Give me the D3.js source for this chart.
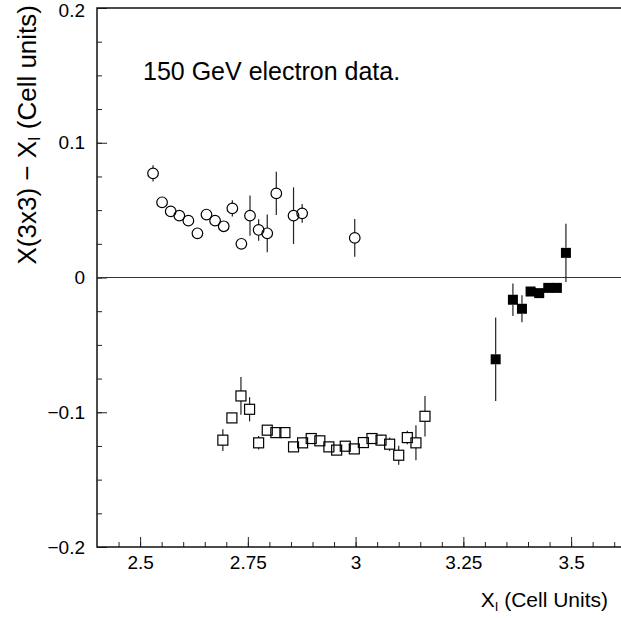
<!DOCTYPE html>
<html>
<head>
<meta charset="utf-8">
<script src="https://cdn.jsdelivr.net/npm/d3@7"></script>
<style>
  body { margin: 0; background: #fff; }
  text { font-family: "Liberation Sans", Arial, sans-serif; fill: #000; }
</style>
</head>
<body>
<svg id="chart" width="621" height="618"></svg>
<script>
// open circles
var circX = [2.530, 2.551, 2.571, 2.591, 2.612, 2.633, 2.654, 2.674, 2.694, 2.714, 2.735, 2.755, 2.775, 2.795, 2.816, 2.856, 2.876, 2.998];
var circY = [0.0773, 0.0558, 0.0491, 0.0459, 0.0422, 0.0328, 0.0467, 0.0422, 0.0380, 0.0513, 0.0250, 0.0459, 0.0353, 0.0328, 0.0624, 0.0459, 0.0476, 0.0294];
var circE = [0.006, 0.003, 0.003, 0.003, 0.003, 0.003, 0.003, 0.003, 0.003, 0.006, 0.003, 0.015, 0.008, 0.014, 0.016, 0.021, 0.007, 0.014];

// open squares
var sqX = [2.692, 2.713, 2.734, 2.754, 2.775, 2.795, 2.815, 2.836, 2.856, 2.877, 2.897, 2.917, 2.938, 2.956, 2.976, 2.997, 3.018, 3.038, 3.059, 3.079, 3.100, 3.120, 3.140, 3.161];
var sqY = [-0.1207, -0.1042, -0.0879, -0.0978, -0.1227, -0.1133, -0.1151, -0.1151, -0.1257, -0.1227, -0.1195, -0.1212, -0.1257, -0.1281, -0.1252, -0.1272, -0.1225, -0.1195, -0.1207, -0.1237, -0.1319, -0.1188, -0.1227, -0.1030];
var sqE = [0.008, 0.003, 0.014, 0.009, 0.005, 0.003, 0.003, 0.003, 0.003, 0.003, 0.003, 0.003, 0.003, 0.003, 0.003, 0.003, 0.003, 0.003, 0.004, 0.005, 0.007, 0.005, 0.013, 0.015];

// filled squares
var fillX = [3.325, 3.365, 3.386, 3.406, 3.426, 3.447, 3.467, 3.488];
var fillY = [-0.0607, -0.0165, -0.0232, -0.0104, -0.0116, -0.0077, -0.0077, 0.0183];
var fillE = [0.031, 0.012, 0.010, 0.003, 0.003, 0.003, 0.003, 0.0216];

var xTicks = [2.5, 2.75, 3, 3.25, 3.5];
var xTickLabels = ["2.5", "2.75", "3", "3.25", "3.5"];
var yTicks = [0.2, 0.1, 0, -0.1, -0.2];
var yTickLabels = ["0.2", "0.1", "0", "\u22120.1", "\u22120.2"];

var svg = d3.select("#chart");
var padL = 97, padT = 8, padB = 547;

var x = d3.scaleLinear().domain([2.4, 3.62]).range([padL, padL + 1.22 * 431]);
var y = d3.scaleLinear().domain([-0.2, 0.2]).range([padB, padT]);
var padR = x.range()[1];

// minor ticks
var xMinor = d3.range(2.45, 3.62, 0.05);
var yMinor = d3.range(-0.2, 0.2001, 0.025);

svg.append("g")
  .attr("transform", "translate(0," + padB + ")")
  .call(d3.axisBottom(x).tickValues(xMinor).tickSize(-5).tickFormat(""))
  .call(function(g) { g.select(".domain").remove(); });

svg.append("g")
  .attr("transform", "translate(" + padL + ",0)")
  .call(d3.axisLeft(y).tickValues(yMinor).tickSize(-5).tickFormat(""))
  .call(function(g) { g.select(".domain").remove(); });

// major ticks + labels
svg.append("g")
  .attr("class", "xaxis")
  .attr("transform", "translate(0," + padB + ")")
  .call(d3.axisBottom(x).tickValues(xTicks).tickSize(-10).tickPadding(9)
    .tickFormat(function(d, i) { return xTickLabels[i]; }))
  .call(function(g) { g.select(".domain").remove(); });

svg.append("g")
  .attr("class", "yaxis")
  .attr("transform", "translate(" + padL + ",0)")
  .call(d3.axisLeft(y).tickValues(yTicks).tickSize(-10).tickPadding(12)
    .tickFormat(function(d, i) { return yTickLabels[i]; }))
  .call(function(g) { g.select(".domain").remove(); });

svg.selectAll(".xaxis text, .yaxis text")
  .style("font-size", "19px")
  .style("font-family", "'Liberation Sans', Arial, sans-serif");
svg.selectAll(".yaxis .tick text").filter(function(d) { return d === 0.2; })
  .attr("dy", "0.45em");
svg.selectAll(".tick line").attr("stroke", "#222");

// frame
svg.append("rect")
  .attr("x", padL).attr("y", padT)
  .attr("width", padR - padL).attr("height", padB - padT)
  .attr("fill", "none").attr("stroke", "#111").attr("stroke-width", 1.5);

// zero line
svg.append("line")
  .attr("x1", padL).attr("x2", padR)
  .attr("y1", y(0)).attr("y2", y(0))
  .attr("stroke", "#333").attr("stroke-width", 1.2);

function errorBars(xs, ys, es, half) {
  var g = svg.append("g").attr("stroke", "#222").attr("stroke-width", 1.2);
  xs.forEach(function(xv, i) {
    var cx = x(xv), cy = y(ys[i]);
    var yHi = y(ys[i] + es[i]), yLo = y(ys[i] - es[i]);
    if (cy - yHi > half) {
      g.append("line").attr("x1", cx).attr("x2", cx).attr("y1", yHi).attr("y2", cy - half);
    }
    if (yLo - cy > half) {
      g.append("line").attr("x1", cx).attr("x2", cx).attr("y1", cy + half).attr("y2", yLo);
    }
  });
}

errorBars(circX, circY, circE, 5.3);
errorBars(sqX, sqY, sqE, 5);
errorBars(fillX, fillY, fillE, 5);

svg.append("g").selectAll("circle")
  .data(d3.range(circX.length))
  .join("circle")
  .attr("cx", function(i) { return x(circX[i]); })
  .attr("cy", function(i) { return y(circY[i]); })
  .attr("r", 5.3)
  .attr("fill", "none").attr("stroke", "#000").attr("stroke-width", 1.2);

svg.append("g").selectAll("rect")
  .data(d3.range(sqX.length))
  .join("rect")
  .attr("x", function(i) { return x(sqX[i]) - 5; })
  .attr("y", function(i) { return y(sqY[i]) - 5; })
  .attr("width", 10).attr("height", 10)
  .attr("fill", "none").attr("stroke", "#000").attr("stroke-width", 1.2);

svg.append("g").selectAll("rect")
  .data(d3.range(fillX.length))
  .join("rect")
  .attr("x", function(i) { return x(fillX[i]) - 5; })
  .attr("y", function(i) { return y(fillY[i]) - 5; })
  .attr("width", 10).attr("height", 10)
  .attr("fill", "#000");

// annotation
svg.append("text")
  .attr("x", 143).attr("y", 80)
  .style("font-size", "25px")
  .text("150 GeV electron data.");

// x title
var xt = svg.append("text")
  .attr("x", 608).attr("y", 607)
  .attr("text-anchor", "end")
  .style("font-size", "21px");
xt.append("tspan").text("X");
xt.append("tspan").attr("dy", 4).style("font-size", "13px").text("I");
xt.append("tspan").attr("dy", -4).text(" (Cell Units)");

// y title
var yt = svg.append("text")
  .attr("transform", "translate(36,5) rotate(-90)")
  .attr("text-anchor", "end")
  .style("font-size", "26px");
yt.append("tspan").text("X(3x3) \u2212 X");
yt.append("tspan").attr("dy", 4).style("font-size", "16px").text("I");
yt.append("tspan").attr("dy", -4).text(" (Cell units)");
</script>
</body>
</html>
